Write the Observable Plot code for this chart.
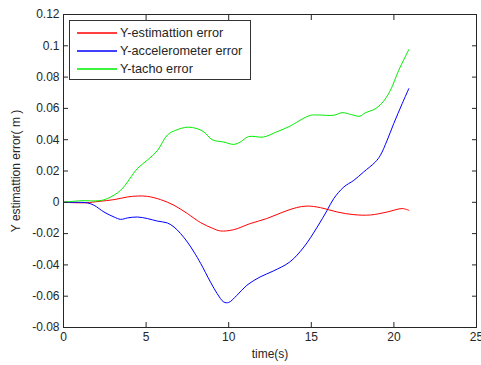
<!DOCTYPE html>
<html>
<head>
<meta charset="utf-8">
<script src="https://cdn.jsdelivr.net/npm/d3@7"></script>
<script src="https://cdn.jsdelivr.net/npm/@observablehq/plot@0.6"></script>
<style>
  html, body { margin: 0; padding: 0; background: #fff; }
  #wrap { position: relative; width: 481px; height: 365px; font-family: "Liberation Sans", Arial, sans-serif; }
  #legend { position: absolute; left: 69px; top: 20px; width: 182px; height: 60px; border: 1px solid #333; background: #fff; box-sizing: border-box; }
  .row { position: absolute; left: 0; height: 16px; white-space: nowrap; font-size: 12.7px; line-height: 16px; color: #262626; }
  .sw { position: absolute; left: 7px; top: 6px; }
  .tx { position: absolute; left: 50px; top: 0; }
</style>
</head>
<body>
<div id="wrap"></div>
<script>
// ---- data ----
const seriesNames = ["Y-estimattion error", "Y-accelerometer error", "Y-tacho error"];
const seriesColors = ["#ff0000", "#0000ff", "#00ee00"];

const estT = [0,1.35,2.15,3.06,3.87,4.47,5.08,5.88,6.69,7.5,8.3,9.0,9.5,10.3,11.3,12.3,13.3,14.1,14.75,15.55,16.57,17.57,18.58,19.59,20.5,20.9];
const estV = [0,-0.0003,0.0006,0.0017,0.0034,0.004,0.0038,0.0017,-0.0019,-0.0072,-0.013,-0.0165,-0.0183,-0.0175,-0.0136,-0.0104,-0.0062,-0.0034,-0.0024,-0.0034,-0.0062,-0.0079,-0.0081,-0.0062,-0.0040,-0.0051];

const accT = [0,0.7,1.45,1.85,2.45,3.06,3.46,3.87,4.47,5.08,5.68,6.29,6.69,7.09,7.5,7.9,8.3,8.9,9.3,9.7,10.0,10.5,11.1,11.9,12.7,13.7,14.55,15.36,15.96,16.36,16.97,17.57,18.17,18.88,19.18,19.59,19.99,20.5,20.9];
const accV = [0,0,-0.0004,-0.0019,-0.0062,-0.0094,-0.0109,-0.010,-0.0094,-0.0104,-0.012,-0.0132,-0.0158,-0.020,-0.0254,-0.0318,-0.039,-0.051,-0.0583,-0.0637,-0.064,-0.0594,-0.053,-0.0477,-0.0439,-0.0381,-0.0286,-0.0158,-0.0051,0.0024,0.0098,0.014,0.0194,0.0258,0.030,0.0396,0.0503,0.063,0.0726];

const tachoT = [0,1.05,2.15,2.66,3.46,4.47,5.08,5.68,6.29,6.79,7.5,8.1,8.5,9.0,9.7,10.3,10.7,11.2,12.1,12.9,13.7,14.5,14.95,15.45,16.36,16.87,17.37,17.93,18.28,18.78,19.29,19.79,20.29,20.9];
const tachoV = [0,0.001,0.001,0.0024,0.0077,0.0215,0.027,0.033,0.043,0.046,0.048,0.047,0.045,0.040,0.0385,0.037,0.0385,0.042,0.0417,0.045,0.0486,0.0535,0.0556,0.0558,0.0556,0.0573,0.0562,0.055,0.0573,0.0592,0.0635,0.0716,0.0843,0.0975];

const xTicks = [0, 5, 10, 15, 20, 25];
const yTicks = [-0.08, -0.06, -0.04, -0.02, 0, 0.02, 0.04, 0.06, 0.08, 0.1, 0.12];
const xLabel = "time(s)";
const yLabel = "Y estimattion error( m )";

// ---- build ----
const toRows = (T, V, s) => T.map((t, i) => ({t, v: V[i], s}));
const rows = [
  ...toRows(estT, estV, seriesNames[0]),
  ...toRows(accT, accV, seriesNames[1]),
  ...toRows(tachoT, tachoV, seriesNames[2])
];
const fmt = d => String(+(+d).toFixed(2));
const axisColor = "#262626";

const chart = Plot.plot({
  width: 481,
  height: 365,
  marginLeft: 63,
  marginTop: 14,
  marginRight: 5,
  marginBottom: 38,
  style: {fontFamily: "'Liberation Sans', Arial, sans-serif", fontSize: "12px", color: axisColor, background: "#fff"},
  x: {domain: [0, 25]},
  y: {domain: [-0.08, 0.12]},
  color: {domain: seriesNames, range: seriesColors},
  marks: [
    Plot.line(rows, {x: "t", y: "v", z: "s", stroke: "s", strokeWidth: 1, curve: "catmull-rom"}),
    Plot.frame({stroke: axisColor, strokeWidth: 1}),
    Plot.axisX(xTicks, {anchor: "bottom", tickSize: 0, tickPadding: 5, tickFormat: fmt, label: xLabel, labelAnchor: "center", labelArrow: "none", labelOffset: 30}),
    Plot.axisX(xTicks, {anchor: "bottom", tickSize: -5, text: null, label: null}),
    Plot.axisX(xTicks, {anchor: "top", tickSize: -5, text: null, label: null}),
    Plot.axisY(yTicks, {anchor: "left", tickSize: 0, tickPadding: 4, tickFormat: fmt, label: yLabel, labelAnchor: "center", labelArrow: "none", labelOffset: 52}),
    Plot.axisY(yTicks, {anchor: "left", tickSize: -5, text: null, label: null}),
    Plot.axisY(yTicks, {anchor: "right", tickSize: -5, text: null, label: null})
  ]
});

const wrap = document.getElementById("wrap");
wrap.appendChild(chart);

const legend = document.createElement("div");
legend.id = "legend";
const rowTops = [4, 22, 40];
const svgNS = "http://www.w3.org/2000/svg";
seriesNames.forEach((name, i) => {
  const r = document.createElement("div");
  r.className = "row";
  r.style.top = rowTops[i] + "px";
  const sw = document.createElementNS(svgNS, "svg");
  sw.setAttribute("class", "sw");
  sw.setAttribute("width", "40");
  sw.setAttribute("height", "4");
  const ln = document.createElementNS(svgNS, "line");
  ln.setAttribute("x1", "0"); ln.setAttribute("x2", "40");
  ln.setAttribute("y1", "2"); ln.setAttribute("y2", "2");
  ln.setAttribute("stroke", seriesColors[i]);
  ln.setAttribute("stroke-width", "1.3");
  sw.appendChild(ln);
  const tx = document.createElement("span");
  tx.className = "tx";
  tx.textContent = name;
  r.appendChild(sw);
  r.appendChild(tx);
  legend.appendChild(r);
});
wrap.appendChild(legend);
</script>
</body>
</html>
